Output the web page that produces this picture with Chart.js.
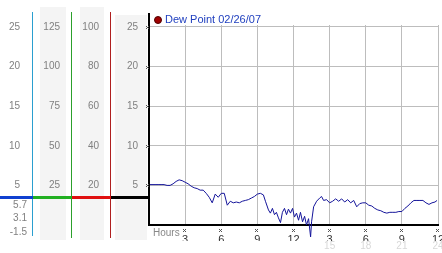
<!DOCTYPE html>
<html>
<head>
<meta charset="utf-8">
<script src="https://cdn.jsdelivr.net/npm/chart.js@4.4.0/dist/chart.umd.min.js"></script>
<style>
  html, body { margin: 0; padding: 0; background: #fff; }
  #wrap { position: relative; width: 442px; height: 253px; }
</style>
</head>
<body>
<div id="wrap"><canvas id="dew" width="442" height="253"></canvas></div>
<script>
// --- data ---
const seriesLabel = 'Dew Point 02/26/07';

const hours = [
  0, 0.25, 0.5, 0.75, 1, 1.25, 1.5, 1.75, 2, 2.25, 2.5, 2.75,
  3, 3.25, 3.5, 3.75, 4, 4.25, 4.5, 4.75, 5, 5.25, 5.5, 5.75,
  6, 6.25, 6.5, 6.75, 7, 7.25, 7.5, 7.75, 8, 8.25, 8.5, 8.75,
  9, 9.25, 9.5, 9.67, 9.92, 10.08, 10.25, 10.42, 10.58, 10.75, 10.92,
  11.08, 11.25, 11.42, 11.58, 11.75, 11.92, 12.08, 12.25, 12.42, 12.58, 12.75, 12.92,
  13.08, 13.25, 13.42, 13.5, 13.67, 13.92, 14.17, 14.33,
  14.5, 14.75, 15, 15.25, 15.5, 15.75, 16, 16.25, 16.5, 16.75, 17, 17.25,
  17.5, 17.75, 18, 18.25, 18.5, 18.75, 19, 19.25, 19.5, 19.75, 20, 20.25,
  20.5, 20.75, 21, 21.25, 21.5, 21.75, 22, 22.25, 22.5, 22.75, 23, 23.25,
  23.5, 23.75, 23.92
];

const dewPoint = [
  5.1, 5.1, 5.1, 5.1, 5.1, 5.1, 5.0, 5.0, 5.2, 5.5, 5.7, 5.6,
  5.4, 5.2, 4.9, 4.7, 4.6, 4.4, 4.4, 4.0, 3.5, 2.8, 3.9, 3.5,
  4.0, 4.0, 2.5, 3.0, 2.8, 2.9, 2.8, 3.0, 3.1, 3.2, 3.4, 3.6,
  3.9, 4.0, 3.8, 3.0, 1.9, 1.5, 2.1, 1.3, 1.6, 0.9, 0.3,
  1.6, 2.1, 1.3, 2.0, 1.5, 2.1, 1.0, 1.5, 0.6, 1.6, 0.4, 1.1,
  0.0, 0.8, -1.5, 0.4, 2.3, 3.0, 3.4, 3.6,
  3.1, 3.2, 2.8, 3.0, 3.3, 3.0, 3.3, 2.9, 3.2, 2.8, 3.1, 2.3,
  2.7, 2.8, 2.8, 2.5, 2.4, 2.1, 1.9, 1.8, 1.6, 1.5, 1.6, 1.6,
  1.6, 1.7, 1.7, 2.1, 2.4, 2.8, 3.1, 3.1, 3.1, 3.1, 2.8, 2.6,
  2.8, 2.9, 3.1
];

const hourTicks = [3, 6, 9, 12, 15, 18, 21, 24];
const lateHourTicks = [15, 18, 21, 24];
const mainTicks = [5, 10, 15, 20, 25];
const ticks125 = [25, 50, 75, 100, 125];
const ticks100 = [20, 40, 60, 80, 100];
const markerLevel = 3.5;

// --- helpers ---
const FONT = "'Liberation Sans', Arial, sans-serif";
const yMax = 25.25;
const fixedTicks = list => scale => { scale.ticks = list.map(v => ({ value: v })); };
const fixedWidth = w => scale => { scale.width = w; };
const gray = '#808080';

function sideAxis(weight, max, list, width, pad) {
  return {
    position: 'left', weight: weight, min: 0, max: max,
    afterBuildTicks: fixedTicks(list),
    afterFit: fixedWidth(width),
    grid: { display: false, drawTicks: false },
    border: { display: false },
    ticks: { padding: pad, color: gray, font: { family: FONT, size: 10 } }
  };
}

function xMark(ctx, x, y) {
  x = Math.round(x); y = Math.round(y);
  ctx.fillRect(x - 1, y - 1, 1, 1);
  ctx.fillRect(x + 1, y - 1, 1, 1);
  ctx.fillRect(x, y, 1, 1);
  ctx.fillRect(x - 1, y + 1, 1, 1);
  ctx.fillRect(x + 1, y + 1, 1, 1);
}

// draws the scale panel on the left, the tick marks and the legend
const panelDecor = {
  id: 'panelDecor',
  beforeDraw(chart) {
    const { ctx, chartArea: a, scales: s } = chart;
    ctx.save();
    ctx.fillStyle = '#f4f4f4';
    ctx.fillRect(s.y125.left + 7, a.top - 18, s.y125.width - 13, a.bottom - a.top + 33);
    ctx.fillRect(s.y100.left + 8, a.top - 18, s.y100.width - 15, a.bottom - a.top + 33);
    ctx.fillRect(s.y.left + 4, a.top - 10, s.y.width - 6, a.bottom - a.top + 25);
    ctx.restore();
  },
  afterDraw(chart) {
    const { ctx, chartArea: a, scales: s } = chart;
    ctx.save();

    // vertical column lines
    ctx.fillStyle = '#2a9fd0';
    ctx.fillRect(s.yC.right - 1, a.top - 13, 1, a.bottom - a.top + 24);
    ctx.fillStyle = '#2ca02c';
    ctx.fillRect(s.y125.right - 1, a.top - 13, 1, a.bottom - a.top + 26);
    ctx.fillStyle = '#b02020';
    ctx.fillRect(s.y100.right - 1, a.top - 13, 1, a.bottom - a.top + 26);
    ctx.fillStyle = '#000';
    ctx.fillRect(a.left - 1, a.top - 12, 2, a.bottom - a.top + 12);

    // level marker across the panel
    const my = Math.round(s.y.getPixelForValue(markerLevel)) - 1;
    const segs = [[s.yC, '#1040d0'], [s.y125, '#22b022'], [s.y100, '#e01010'], [s.y, '#000']];
    segs.forEach(([sc, c]) => { ctx.fillStyle = c; ctx.fillRect(sc.left, my, sc.width, 3); });

    // max / current / min under the marker
    const stats = [Math.max(...dewPoint), dewPoint[dewPoint.length - 1], Math.min(...dewPoint)];
    ctx.font = '10px ' + FONT;
    ctx.fillStyle = gray;
    ctx.textAlign = 'right';
    ctx.textBaseline = 'middle';
    stats.forEach((v, i) => ctx.fillText(v.toFixed(1), s.yC.right - 6, my + 9 + i * 13.7));

    // tick marks
    ctx.fillStyle = '#555';
    mainTicks.forEach(v => xMark(ctx, a.left - 2, s.y.getPixelForValue(v)));
    hourTicks.forEach(v => xMark(ctx, s.x.getPixelForValue(v) - 1, a.bottom + 5));

    // axis caption
    ctx.font = '10px ' + FONT;
    ctx.fillStyle = '#888';
    ctx.textAlign = 'left';
    ctx.fillText('Hours', a.left + 4, a.bottom + 8);

    // legend
    const ds = chart.data.datasets[0];
    ctx.beginPath();
    ctx.arc(a.left + 9, a.top - 5, 3.5, 0, Math.PI * 2);
    ctx.fillStyle = '#a00000';
    ctx.fill();
    ctx.strokeStyle = '#500000';
    ctx.lineWidth = 1;
    ctx.stroke();
    ctx.font = '11px ' + FONT;
    ctx.fillStyle = '#1f3fbf';
    ctx.fillText(ds.label, a.left + 16, a.top - 5);

    ctx.restore();
  }
};

new Chart(document.getElementById('dew'), {
  type: 'line',
  data: {
    datasets: [{
      label: seriesLabel,
      data: hours.map((h, i) => ({ x: h, y: dewPoint[i] })),
      borderColor: '#14149a',
      borderWidth: 1,
      pointRadius: 0,
      tension: 0,
      fill: false,
      clip: false,
      xAxisID: 'x',
      yAxisID: 'y'
    }]
  },
  options: {
    responsive: false,
    animation: false,
    devicePixelRatio: 1,
    layout: { padding: { top: 25, right: 4, left: 0, bottom: 0 } },
    plugins: { legend: { display: false }, tooltip: { enabled: false } },
    scales: {
      x: {
        type: 'linear', position: 'bottom', weight: 0, min: 0, max: 24,
        afterBuildTicks: fixedTicks(hourTicks),
        afterFit: sc => { sc.height = 16; sc.paddingLeft = 0; sc.paddingRight = 0; },
        grid: { color: '#bdbdbd', drawTicks: false },
        border: { color: '#000', width: 2 },
        ticks: {
          padding: 8, color: '#333', maxRotation: 0, autoSkip: false,
          font: { family: FONT, size: 11 },
          callback: v => (v > 12 ? v - 12 : v)
        }
      },
      x2: {
        type: 'linear', position: 'bottom', weight: 1, min: 0, max: 24,
        afterBuildTicks: fixedTicks(lateHourTicks),
        afterFit: sc => { sc.height = 12; sc.paddingLeft = 0; sc.paddingRight = 0; },
        grid: { display: false, drawTicks: false },
        border: { display: false },
        ticks: { padding: 0, color: '#d8d8d8', maxRotation: 0, autoSkip: false, font: { family: FONT, size: 10, lineHeight: 1 } }
      },
      y: {
        position: 'left', weight: 0, min: 0, max: yMax,
        afterBuildTicks: fixedTicks(mainTicks),
        afterFit: fixedWidth(38),
        grid: { color: '#bdbdbd', drawTicks: false },
        border: { display: false },
        ticks: { padding: 11, color: gray, font: { family: FONT, size: 10 } }
      },
      y100: sideAxis(1, yMax * 4, ticks100, 39, 12),
      y125: sideAxis(2, yMax * 5, ticks125, 39, 12),
      yC: sideAxis(3, yMax, mainTicks, 33, 13)
    }
  },
  plugins: [panelDecor]
});
</script>
</body>
</html>
